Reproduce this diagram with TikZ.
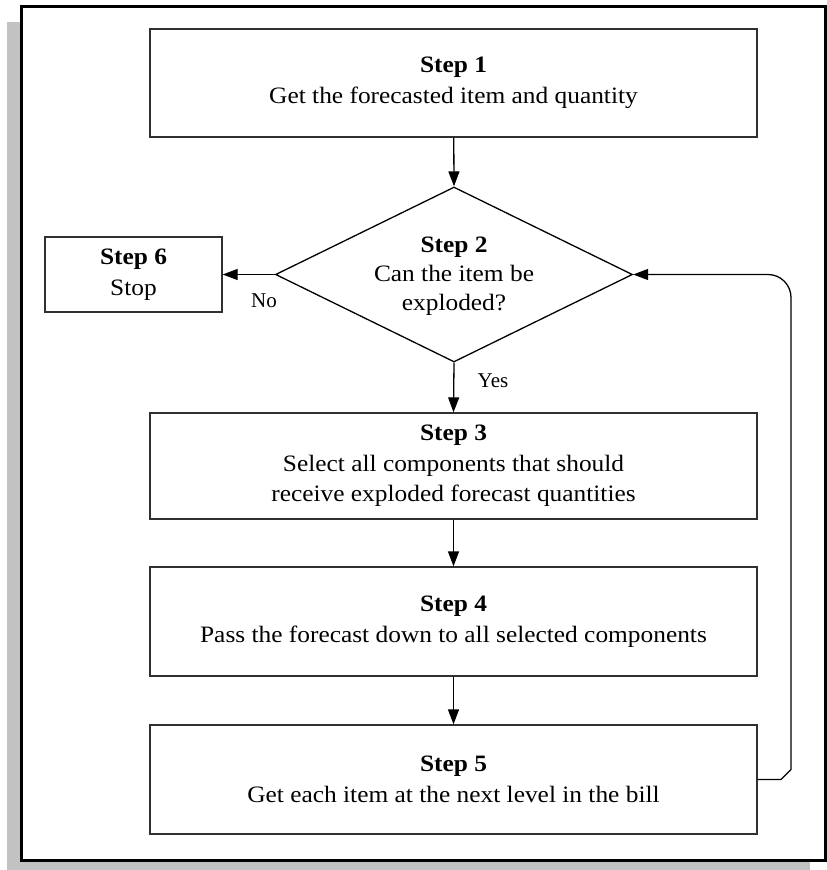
\documentclass[tikz,border=0pt]{standalone}
\usepackage{fontspec}
\setmainfont{Liberation Serif}[FakeStretch=1.08]
\newfontfamily\timesfont{Liberation Serif}
\usetikzlibrary{arrows.meta,shapes.geometric}
\definecolor{shadowgray}{HTML}{C2C2C2}
\definecolor{linegray}{HTML}{303030}
\tikzset{
  stepbox/.style={draw=linegray, line width=1.3pt, rectangle, inner sep=0pt, align=center,
    font=\fontsize{23.5}{30.5}\selectfont},
  decision/.style={draw=black, line width=1.3pt, diamond, inner sep=0pt},
  steptext/.style={align=center, font=\fontsize{23.5}{29}\selectfont, inner sep=0pt},
  flow/.style={draw=black, line width=1.3pt, -{Triangle[length=15pt,width=11pt]}},
  answer/.style={font=\timesfont\fontsize{21}{24}\selectfont, inner sep=0pt}
}
\begin{document}
\begin{tikzpicture}[x=1pt,y=-1pt]
\useasboundingbox (0,0) rectangle (827,870);
\fill[shadowgray] (7,22) rectangle (810,870);
\draw[fill=white, line width=3pt] (21,6) rectangle (825,860);

\node[stepbox, minimum width=607pt, minimum height=108pt] (s1) at (453.5,83)
  {\textbf{Step 1}\\Get the forecasted item and quantity};
\node[decision, minimum width=357pt, minimum height=175pt] (d) at (454,274.5) {};
\node[steptext] (dt) at (454,276) {\textbf{Step 2}\\Can the item be\\exploded?};
\node[stepbox, minimum width=177pt, minimum height=75pt] (s6) at (133.5,274.5)
  {\textbf{Step 6}\\Stop};
\node[stepbox, minimum width=607pt, minimum height=106pt] (s3) at (453.5,466)
  {\textbf{Step 3}\\Select all components that should\\receive exploded forecast quantities};
\node[stepbox, minimum width=607pt, minimum height=109pt] (s4) at (453.5,621.5)
  {\textbf{Step 4}\\Pass the forecast down to all selected components};
\node[stepbox, minimum width=607pt, minimum height=109pt] (s5) at (453.5,779.5)
  {\textbf{Step 5}\\Get each item at the next level in the bill};

\coordinate (c1) at (781,779.5);
\coordinate (c2) at (791,769.5);
\coordinate (c3) at (791,274.5);

\draw[flow] (s1) -- (d.north);
\draw[flow] (d.west) -- (s6.east);
\draw[flow] (d.south) -- (s3.north);
\draw[flow] (s3) -- (s4);
\draw[flow] (s4) -- (s5);
\draw[flow] (s5.east) -- (c1) -- (c2) [rounded corners=23pt] -- (c3) -- (d.east);

\node[answer] (no) at (264,301) {No};
\node[answer] (yes) at (493,381) {Yes};
\end{tikzpicture}
\end{document}
